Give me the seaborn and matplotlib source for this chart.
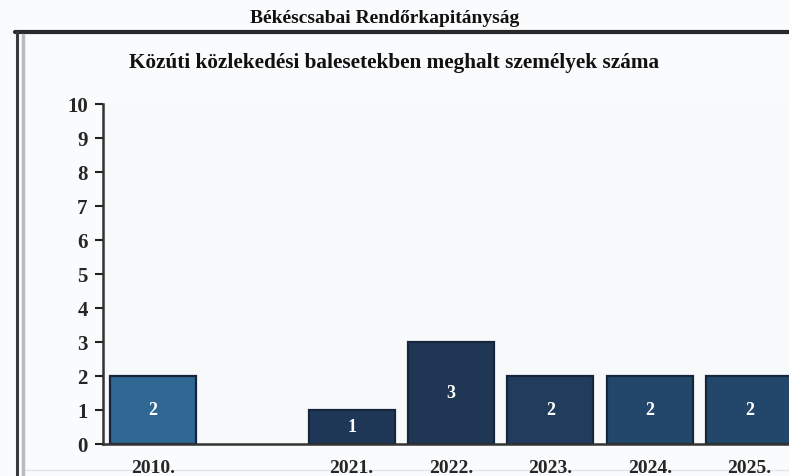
import matplotlib

matplotlib.use("Agg")

import matplotlib.pyplot as plt
import numpy as np
import pandas as pd
import seaborn as sns
from matplotlib.lines import Line2D


# Chart data
years = ["2010.", " ", "2021.", "2022.", "2023.", "2024.", "2025."]
deaths = [2, np.nan, 1, 3, 2, 2, 2]
bar_colors = ["#2e6893", "#2e6893", "#1f3757", "#1f3655", "#223c5e", "#23476a", "#23476a"]
y_ticks = list(range(0, 11))

station_title = "Békéscsabai Rendőrkapitányság"
chart_title = "Közúti közlekedési balesetekben meghalt személyek száma"

sns.set_theme(style="white")
plt.rcParams.update({
	"font.family": ["Liberation Serif", "DejaVu Serif"],
	"font.weight": "bold",
	"figure.facecolor": "#fafbfc",
	"axes.facecolor": "#f7f9fb",
})

df = pd.DataFrame({"year": years, "deaths": deaths})

fig = plt.figure(figsize=(7.89, 4.77), dpi=100)
ax = fig.add_axes([0.1305, 0.0671, 0.8822, 0.7128])

sns.barplot(
	data=df,
	x="year",
	y="deaths",
	hue="year",
	order=years,
	hue_order=years,
	palette=bar_colors,
	saturation=1,
	width=0.865,
	edgecolor="#16263a",
	linewidth=1.6,
	legend=False,
	ax=ax,
)

for container in ax.containers:
	ax.bar_label(
		container,
		labels=[f"{v:.0f}" if not np.isnan(v) else "" for v in container.datavalues],
		label_type="center",
		color="white",
		fontsize=13,
		fontweight="bold",
	)

ax.set_xlim(-0.5, len(years) - 0.5)
ax.set_ylim(0, 10)
ax.set_yticks(y_ticks)
ax.set_yticklabels([str(t) for t in y_ticks], fontsize=15, fontweight="bold")
ax.set_xticks(range(len(years)))
ax.set_xticklabels(years, fontsize=14, fontweight="bold")
ax.set_xticks(np.arange(-0.5, len(years)), minor=True)
ax.tick_params(axis="x", which="major", length=0, pad=11)
ax.tick_params(axis="x", which="minor", length=5, width=1.5, color="#222222", direction="out")
ax.tick_params(axis="y", length=6, width=1.5, color="#222222", direction="out", pad=5, left=True)
ax.set_xlabel("")
ax.set_ylabel("")

for side in ["top", "right"]:
	ax.spines[side].set_visible(False)
for side in ["left", "bottom"]:
	ax.spines[side].set_color("#333333")
	ax.spines[side].set_linewidth(1.8)

# Frame around the chart area
fig.add_artist(Line2D([0.019, 1.0], [0.931, 0.931], color="#2a2a2a", linewidth=3))
fig.add_artist(Line2D([0.022, 0.022], [0.0, 0.931], color="#3a3a3a", linewidth=2.2))
fig.add_artist(Line2D([0.029, 0.029], [0.0, 0.925], color="#b8bcc0", linewidth=2.5))
fig.add_artist(Line2D([0.03, 1.0], [0.012, 0.012], color="#e3e6e9", linewidth=1, zorder=-1))

fig.text(0.488, 0.962, station_title, ha="center", va="center", fontsize=14, fontweight="bold", color="#111111")
fig.text(0.5, 0.868, chart_title, ha="center", va="center", fontsize=15.3, fontweight="bold", color="#111111")

fig.savefig("out.png", dpi=100, facecolor=fig.get_facecolor())
plt.close(fig)
